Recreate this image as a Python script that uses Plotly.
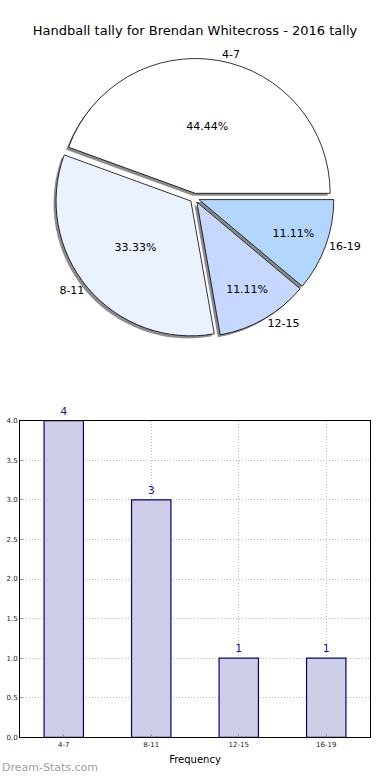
import plotly.graph_objects as go

# ---- data ----
categories = ["4-7", "8-11", "12-15", "16-19"]
counts = [4, 3, 1, 1]
pie_colors = ["#ffffff", "#eaf1ff", "#c6d8ff", "#b3d6ff"]
title_text = "Handball tally for Brendan Whitecross - 2016 tally"
y_ticks = [0.0, 0.5, 1.0, 1.5, 2.0, 2.5, 3.0, 3.5, 4.0]

W, H = 390, 780
FONT = "DejaVu Sans"

# pie geometry (pixels)
cx, cy, side = 194.5, 196.0, 282.0
pull = 0.035
sh = 2.5  # shadow offset (px)
# first slice starts at 3 o'clock and runs counter-clockwise
start_rot = 90 - 360 * counts[0] / sum(counts)

def dom(cx_, cy_):
    return dict(x=[(cx_ - side / 2) / W, (cx_ + side / 2) / W],
                y=[1 - (cy_ + side / 2) / H, 1 - (cy_ - side / 2) / H])

fig = go.Figure()

common = dict(labels=categories, values=counts, sort=False,
              direction="counterclockwise", rotation=start_rot,
              pull=[pull] * len(counts), showlegend=False)

# shadow pie
fig.add_trace(go.Pie(
    **common,
    marker=dict(colors=["rgba(120,120,120,0.85)"] * len(counts), line=dict(width=0)),
    domain=dom(cx - sh, cy + sh),
    textinfo="none", hoverinfo="skip",
))

# transparent pie carrying the outside labels
fig.add_trace(go.Pie(
    **common,
    marker=dict(colors=["rgba(0,0,0,0)"] * len(counts), line=dict(width=0)),
    domain=dom(cx, cy),
    texttemplate="%{label}", textposition="outside",
    outsidetextfont=dict(family=FONT, size=11, color="black"),
    hoverinfo="skip",
))

# main pie
fig.add_trace(go.Pie(
    **common,
    marker=dict(colors=pie_colors, line=dict(color="black", width=0.8)),
    domain=dom(cx, cy),
    texttemplate="%{percent:.2%}", textposition="inside",
    insidetextorientation="horizontal",
    insidetextfont=dict(family=FONT, size=11, color="black"),
))

# bar chart
fig.add_trace(go.Bar(
    x=categories, y=counts, width=0.45,
    marker=dict(color="#cdcde6", line=dict(color="#000080", width=1.2)),
    text=[str(c) for c in counts], textposition="outside",
    textfont=dict(family=FONT, size=11, color="#1a1aa8"),
    cliponaxis=False, constraintext="none",
    showlegend=False, xaxis="x", yaxis="y",
))

grid = dict(showgrid=True, gridcolor="#bdbdbd", griddash="1px,2px", gridwidth=1)

fig.update_layout(
    width=W, height=H, margin=dict(l=0, r=0, t=0, b=0),
    paper_bgcolor="white", plot_bgcolor="white",
    font=dict(family=FONT, color="black"),
    title=dict(text=title_text, x=0.5, xanchor="center", y=1 - 30 / H, yanchor="middle",
               font=dict(family=FONT, size=13, color="black")),
    xaxis=dict(domain=[20 / W, 370 / W], range=[-0.5, 3.5], type="category",
               showline=True, mirror=True, linecolor="black", linewidth=1,
               **grid,
               ticks="inside", ticklen=3, tickcolor="#999999",
               tickfont=dict(family=FONT, size=7, color="#222222"),
               title=dict(text="Frequency", font=dict(family=FONT, size=10, color="black"), standoff=8),
               zeroline=False, fixedrange=True),
    yaxis=dict(domain=[1 - 741 / H, 1 - 421 / H], range=[0, 4],
               tickvals=y_ticks, tickformat=".1f",
               showline=True, mirror=True, linecolor="black", linewidth=1,
               **grid,
               ticks="inside", ticklen=3, tickcolor="#999999",
               tickfont=dict(family=FONT, size=7, color="#222222"),
               zeroline=False, fixedrange=True),
    annotations=[dict(text="Dream-Stats.com", xref="paper", yref="paper",
                      x=0, y=1 - 771 / H, xanchor="left", yanchor="middle",
                      showarrow=False,
                      font=dict(family=FONT, size=11, color="#a0a0a0"))],
)

fig.write_html("out.html", config={"displayModeBar": False},
               post_script="document.body.style.margin='0';")
